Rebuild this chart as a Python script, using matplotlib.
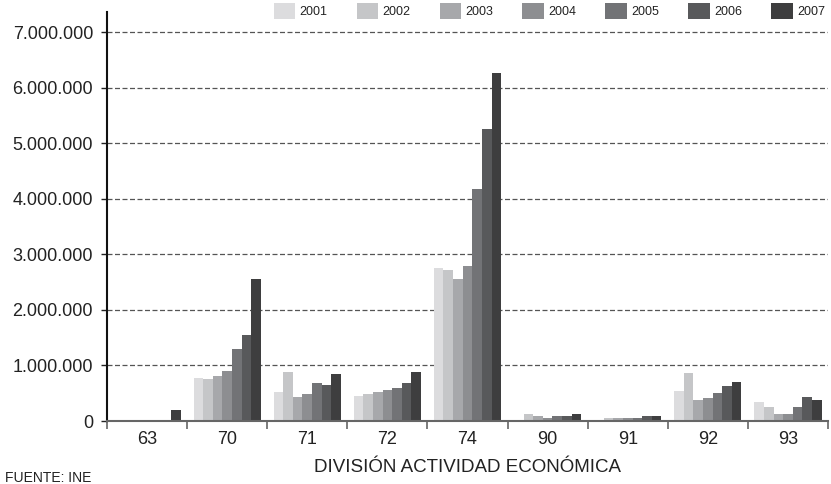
import matplotlib
matplotlib.use("Agg")
import matplotlib.pyplot as plt
from matplotlib.ticker import FuncFormatter, FixedLocator
import numpy as np
from matplotlib import font_manager

names = {f.name for f in font_manager.fontManager.ttflist}
fam = 'Liberation Sans Narrow' if 'Liberation Sans Narrow' in names else 'Liberation Sans'
plt.rcParams['font.family'] = [fam, 'DejaVu Sans']

categories = ['63', '70', '71', '72', '74', '90', '91', '92', '93']
years = ['2001', '2002', '2003', '2004', '2005', '2006', '2007']
values = {
    '2001': [0, 770000, 520000, 445000, 2760000, 20000, 0, 545000, 350000],
    '2002': [0, 755000, 880000, 480000, 2720000, 130000, 60000, 870000, 260000],
    '2003': [0, 810000, 430000, 515000, 2560000, 95000, 60000, 385000, 130000],
    '2004': [0, 900000, 490000, 550000, 2790000, 60000, 60000, 420000, 130000],
    '2005': [0, 1295000, 680000, 590000, 4180000, 95000, 60000, 510000, 260000],
    '2006': [0, 1550000, 650000, 680000, 5260000, 95000, 95000, 635000, 440000],
    '2007': [200000, 2550000, 850000, 875000, 6270000, 130000, 95000, 710000, 385000],
}
colors = ['#dcdcde', '#c5c6c8', '#a7a8ab', '#8d8e91', '#727376', '#58595b', '#3e3e3f']
yticks = [0, 1000000, 2000000, 3000000, 4000000, 5000000, 6000000, 7000000]

W, H = 831, 484
fig = plt.figure(figsize=(W / 100, H / 100), dpi=100)
ax = fig.add_axes([107 / W, 1 - 421 / H, (828 - 107) / W, (421 - 12) / H])

x = np.arange(len(categories))
bw = 0.84 / len(years)
for i, (yr, c) in enumerate(zip(years, colors)):
    off = (i - (len(years) - 1) / 2) * bw
    ax.bar(x + off, values[yr], width=bw, color=c, label=yr, zorder=3, linewidth=0)

ax.set_xlim(-0.5, len(categories) - 0.5)
ax.set_ylim(0, 7360000)
ax.set_yticks(yticks)
ax.yaxis.set_major_formatter(FuncFormatter(lambda v, p: f"{int(v):,}".replace(",", ".")))
ax.grid(axis='y', linestyle=(0, (4, 2)), color='#555555', linewidth=0.9, zorder=1)

ax.xaxis.set_major_locator(FixedLocator(np.arange(-0.5, len(categories), 1.0)))
ax.xaxis.set_minor_locator(FixedLocator(x))
ax.set_xticklabels([], minor=False)
ax.set_xticklabels(categories, minor=True)
ax.tick_params(axis='x', which='major', length=6, width=1.2, color='#666666', direction='out')
ax.tick_params(axis='x', which='minor', length=0, labelsize=13, pad=7, labelcolor='#222222')
ax.tick_params(axis='y', length=4, width=1, color='#222222', labelsize=13, pad=6, labelcolor='#222222')

for s in ['top', 'right']:
    ax.spines[s].set_visible(False)
ax.spines['left'].set_color('#111111')
ax.spines['left'].set_linewidth(1.5)
ax.spines['bottom'].set_color('#666666')
ax.spines['bottom'].set_linewidth(1.5)
ax.spines['bottom'].set_zorder(4)

ax.set_xlabel('DIVISIÓN ACTIVIDAD ECONÓMICA', fontsize=13.5, color='#222222', labelpad=8)

leg = ax.legend(ncol=7, loc='upper right', bbox_to_anchor=(1.0, 1.0 + 12 / 409),
                frameon=False, fontsize=9, handlelength=1.7, handleheight=1.7,
                handletextpad=0.4, columnspacing=2.3, borderaxespad=0.2, borderpad=0.0)
for t in leg.get_texts():
    t.set_color('#222222')

fig.text(5 / W, 1 - 482 / H, 'FUENTE: INE', fontsize=10, color='#222222', va='baseline', ha='left')

fig.savefig('out.png', dpi=100)
